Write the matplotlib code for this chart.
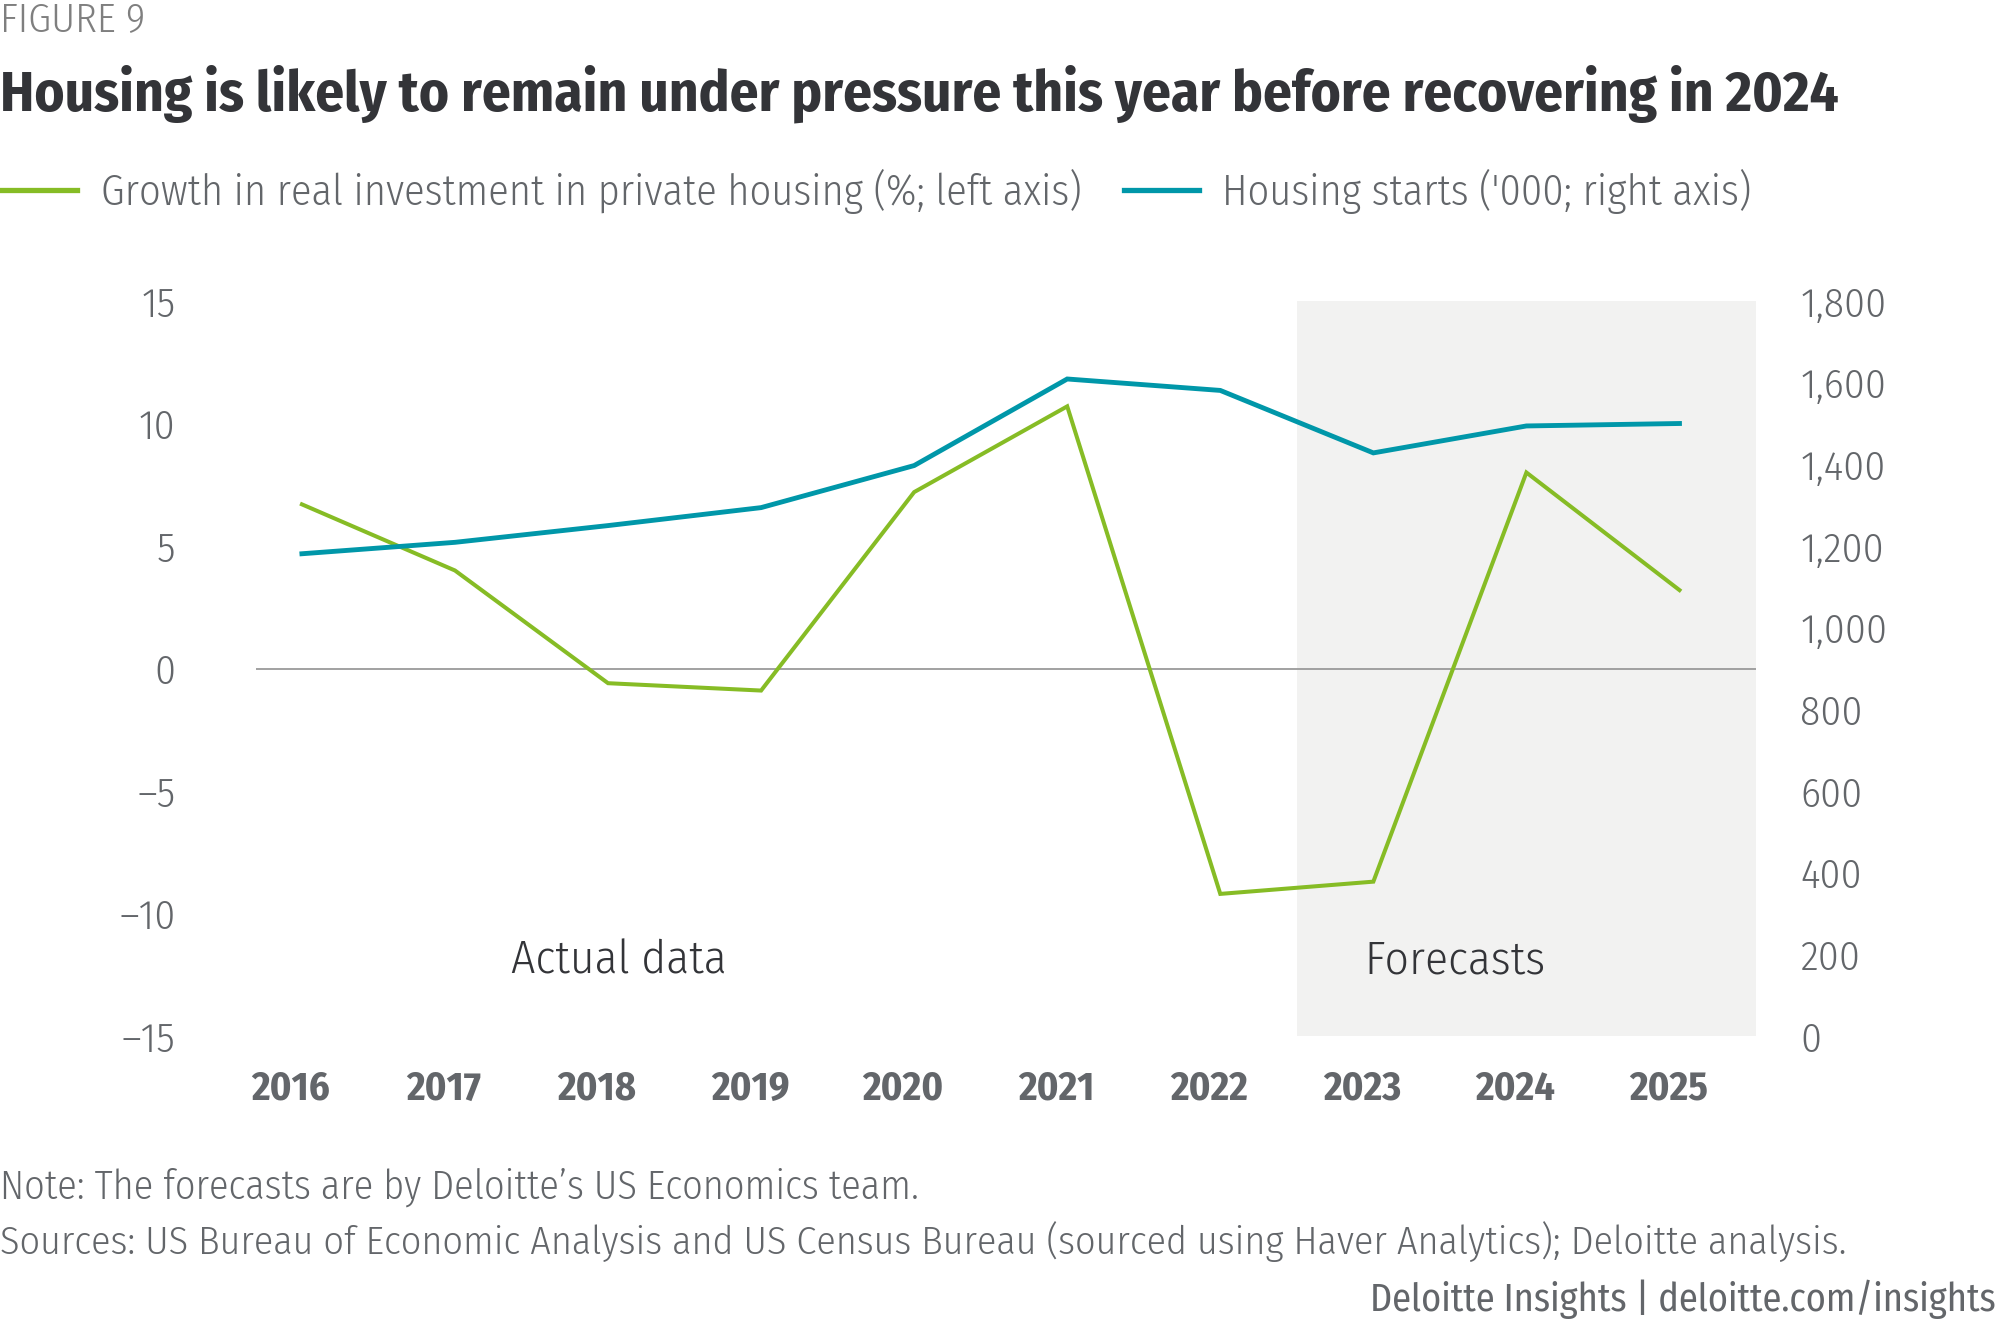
import matplotlib
matplotlib.use("Agg")
import matplotlib.pyplot as plt
import matplotlib.transforms as mtransforms
from matplotlib.ticker import FuncFormatter

# data
years = [2016, 2017, 2018, 2019, 2020, 2021, 2022, 2023, 2024, 2025]
invest_growth = [6.7, 4.0, -0.6, -0.9, 7.2, 10.7, -9.2, -8.7, 8.0, 3.2]      # % left axis
housing_starts = [1181, 1209, 1250, 1294, 1397, 1609, 1581, 1428, 1494, 1500]  # '000 right axis
left_ticks = [-15, -10, -5, 0, 5, 10, 15]
right_ticks = [0, 200, 400, 600, 800, 1000, 1200, 1400, 1600, 1800]
forecast_start = 2022.5

GREEN = '#86BC25'
TEAL = '#0097A9'
GREY = '#63666A'
DARK = '#333438'
COND = 'Fira Sans Condensed'

W, H = 2000, 1327
fig = plt.figure(figsize=(20, 13.27), dpi=100)
ax = fig.add_axes([256 / W, 1 - 1036 / H, 1500 / W, (1036 - 301) / H])
ax2 = ax.twinx()

ax.axvspan(forecast_start, 2025.5, color='#F2F2F1', lw=0, zorder=0)
ax.axhline(0, color='#9a9a9a', lw=1.3, zorder=1)
ax.plot(years, invest_growth, color=GREEN, lw=2.9, zorder=3, solid_joinstyle='miter')
ax2.plot(years, housing_starts, color=TEAL, lw=3.5, zorder=3, solid_joinstyle='miter')

ax.set_xlim(2015.7, 2025.5)
ax.set_ylim(-15, 15)
ax2.set_ylim(0, 1800)
ax.set_xticks(years)
ax.set_yticks(left_ticks)
ax2.set_yticks(right_ticks)
ax.yaxis.set_major_formatter(FuncFormatter(lambda v, p: f"{v:.0f}".replace('-', '\u2013')))
ax2.yaxis.set_major_formatter(FuncFormatter(lambda v, p: f"{v:,.0f}"))

for a in (ax, ax2):
    for s in a.spines.values():
        s.set_visible(False)
    a.tick_params(length=0)

ax.tick_params(axis='y', pad=58, labelsize=30, labelcolor=GREY)
ax2.tick_params(axis='y', pad=32, labelsize=30, labelcolor=GREY)
ax.tick_params(axis='x', pad=24, labelsize=29, labelcolor=GREY)
for lab in ax.get_yticklabels() + ax2.get_yticklabels():
    lab.set_fontfamily(COND)
    lab.set_fontweight(300)
shift = mtransforms.ScaledTranslation(-0.11, 0, fig.dpi_scale_trans)
for lab in ax.get_xticklabels():
    lab.set_fontfamily(COND)
    lab.set_fontweight('bold')
    lab.set_transform(lab.get_transform() + shift)

ax.text(2018.07, -11.93, 'Actual data', ha='center', va='center', fontsize=34,
        color=DARK, family=COND, fontweight=300)
ax.text(2023.53, -11.93, 'Forecasts', ha='center', va='center', fontsize=34,
        color=DARK, family=COND, fontweight=300)

# header
fig.text(0.0, 1 - 31 / H, 'FIGURE 9', fontsize=29.5, color='#7f7f7f', family=COND,
         fontweight=300, va='baseline')
fig.text(0.0, 1 - 110 / H, 'Housing is likely to remain under pressure this year before recovering in 2024',
         fontsize=41, color=DARK, family=COND, fontweight='bold', va='baseline')

# legend
h1, = ax.plot([], [], color=GREEN, lw=3.8)
h2, = ax.plot([], [], color=TEAL, lw=3.8)
leg = fig.legend([h1, h2], ['Growth in real investment in private housing (%; left axis)',
                            "Housing starts ('000; right axis)"],
                 loc='center left', bbox_to_anchor=(0.001, 1 - 191 / H), ncol=2, frameon=False,
                 handlelength=1.78, handletextpad=0.55, columnspacing=1.0, borderpad=0,
                 borderaxespad=0, prop={'family': COND, 'weight': 300, 'size': 30.5})
for t in leg.get_texts():
    t.set_color(GREY)

# footer
fig.text(0.0, 1 - 1199 / H, 'Note: The forecasts are by Deloitte\u2019s US Economics team.',
         fontsize=28.9, color=GREY, family=COND, fontweight=300, va='baseline')
fig.text(0.0, 1 - 1254 / H, 'Sources: US Bureau of Economic Analysis and US Census Bureau '
         '(sourced using Haver Analytics); Deloitte analysis.',
         fontsize=28.8, color=GREY, family=COND, fontweight=300, va='baseline')
fig.text(1 - 4 / W, 1 - 1311 / H, 'Deloitte Insights | deloitte.com/insights',
         fontsize=27.5, color=GREY, family=COND, fontweight='normal', va='baseline', ha='right')

fig.savefig("out.png", dpi=100)
